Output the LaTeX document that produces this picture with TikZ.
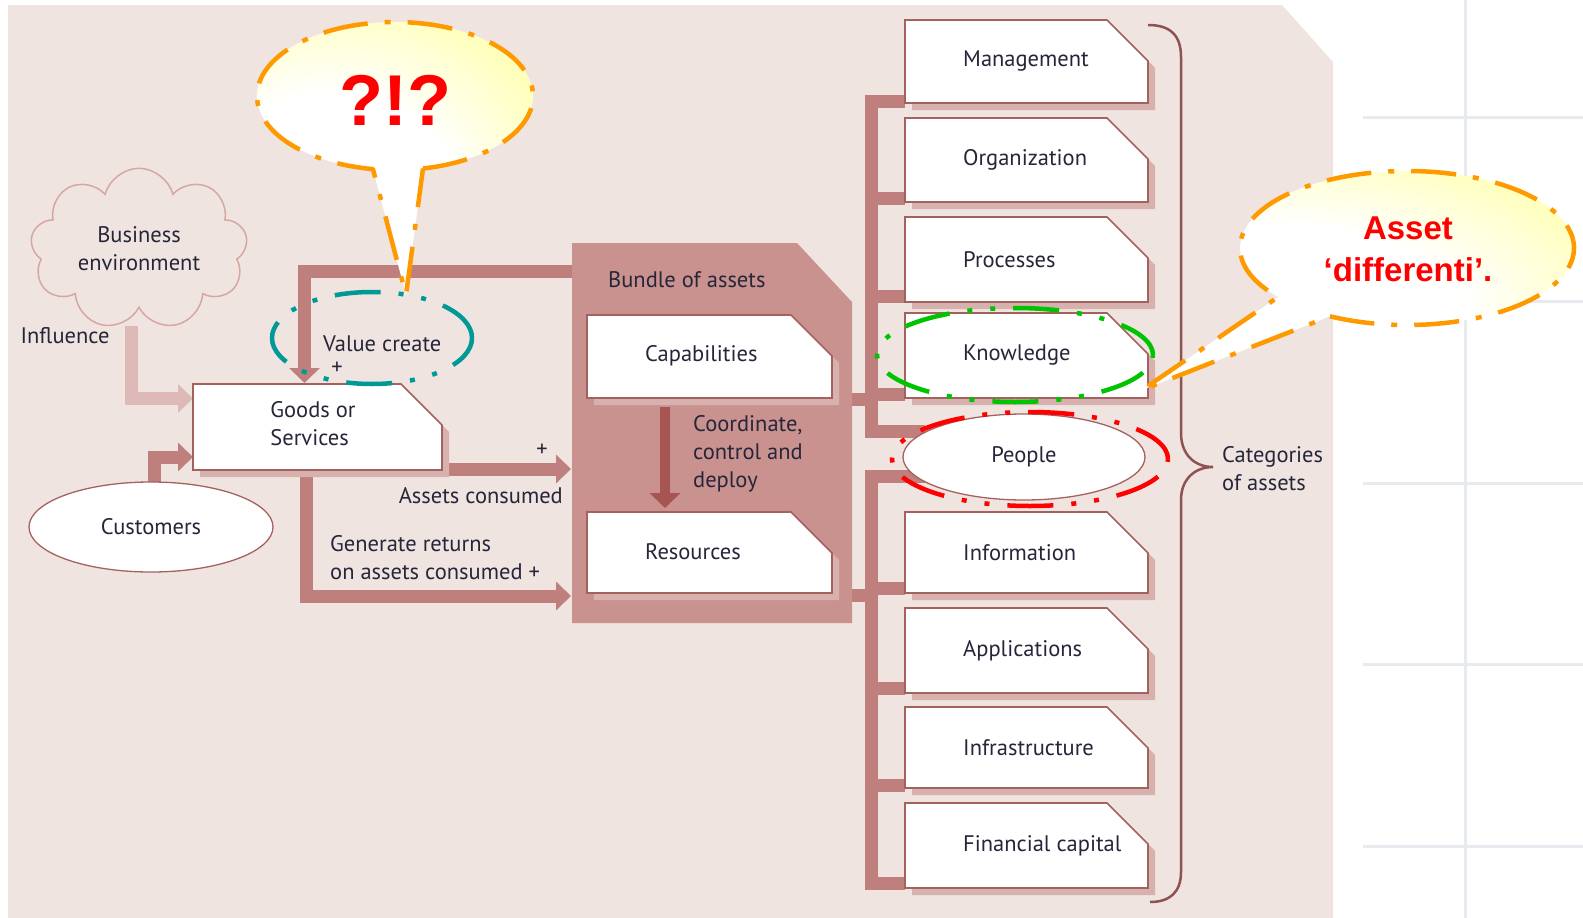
\documentclass[tikz,border=0pt]{standalone}
\usepackage{fontspec}
\setmainfont{PT Sans}
\newfontfamily\arialfont{Liberation Sans}
\usetikzlibrary{shapes.geometric,shapes.symbols,arrows.meta}
\definecolor{panelc}{HTML}{F0E4E1}
\definecolor{barc}{HTML}{BF7F7C}
\definecolor{lbarc}{HTML}{DDBAB7}
\definecolor{bundlec}{HTML}{C9928F}
\definecolor{borderc}{HTML}{A4625F}
\definecolor{shadowc}{HTML}{D7B1AE}
\definecolor{darkarrc}{HTML}{A65552}
\definecolor{txtc}{HTML}{26263A}
\definecolor{cloudc}{HTML}{D6A6A3}
\definecolor{gridc}{HTML}{E7EBEF}
\definecolor{orangec}{HTML}{FF9900}
\definecolor{tealc}{HTML}{009A96}
\definecolor{greenc}{HTML}{00C400}
\definecolor{redc}{HTML}{FF0000}
\definecolor{bracec}{HTML}{8E5250}
\pgfdeclareradialshading{bubshade}{\pgfpoint{-15bp}{-15bp}}{color(0bp)=(white); color(22bp)=(white); color(52bp)=(yellow!55); color(80bp)=(yellow!70)}
\newcommand\cbox[5]{%
  \fill[shadowc] ({#2+7},{#3+7}) -- ({#4-34},{#3+7}) -- ({#4+7},{#3+48}) -- ({#4+7},{#5+7}) -- ({#2+7},{#5+7}) -- cycle;
  \filldraw[fill=white, draw=borderc, line width=1.6pt, line join=miter] (#2,#3) -- ({#4-41},#3) -- (#4,{#3+41}) -- (#4,#5) -- (#2,#5) -- cycle;
  \coordinate (#1-nw) at (#2,#3);
  \coordinate (#1-se) at (#4,#5);
}
\tikzset{
  bar/.style={line width=13pt, draw=barc, line join=miter},
  lbar/.style={bar, draw=lbarc},
  arr/.style={-{Triangle[length=15pt,width=28pt]}},
  hl/.style={ellipse, draw, line width=4.5pt, dash pattern=on 46pt off 18pt on 5pt off 18pt on 5pt off 18pt},
  bubble/.style={shading=bubshade, draw=orangec, line width=4.5pt, line join=round, dash pattern=on 45pt off 17pt on 6pt off 17pt},
  bubtext/.style={text=redc, align=center}
}
\begin{document}
\begin{tikzpicture}[x=1pt, y=-1pt, every node/.style={font=\fontsize{22.5}{28}\selectfont, text=txtc, inner sep=0pt}]
\fill[white] (0,0) rectangle (1583,918);
\useasboundingbox (0,0) rectangle (1583,918);
% grid on the right
\draw[gridc, line width=3pt] (1465,0) -- (1465,918);
\foreach \yy in {117,301,483,664,846} \draw[gridc, line width=3pt] (1363,\yy) -- (1583,\yy);
% panel
\fill[panelc] (8,5) -- (1282,5) -- (1333,62) -- (1333,918) -- (8,918) -- cycle;
% cloud
\node[cloud, cloud puffs=9, aspect=1.4, draw=cloudc, line width=1.5pt, minimum width=217pt, minimum height=158pt, align=center] (biz) at (139,249) {Business\\environment};
\node (infl) at (65,336) {Influence};
% coordinates for connectors
\coordinate (inflS) at (131.5,326);
\coordinate (goodsInf) at (193,398.5);
\coordinate (custTop) at (154.5,485);
\coordinate (goodsCust) at (193,457);
\coordinate (bundleVC) at (572,271);
\coordinate (goodsTop) at (304.5,383);
\coordinate (goodsR) at (440,469);
\coordinate (bundleAC) at (571,469);
\coordinate (goodsB) at (306.5,465);
\coordinate (bundleGR) at (571,596);
% connectors on the left
\draw[lbar, arr] (inflS) |- (goodsInf);
\draw[bar, arr] (custTop) |- (goodsCust);
\draw[bar, -{Triangle[length=15pt,width=30pt]}] (bundleVC) -| (goodsTop);
\draw[bar, arr] (goodsR) -- (bundleAC);
\draw[bar, arr] (goodsB) |- (bundleGR);
% tree
\coordinate (tU) at (871.5,0);
\coordinate (bm) at (905,101);
\coordinate (bo) at (905,198.5);
\coordinate (bp) at (905,296);
\coordinate (bk) at (905,394);
\coordinate (bi) at (905,588.5);
\coordinate (ba) at (905,688.5);
\coordinate (bf) at (905,785);
\coordinate (bc) at (905,883.5);
\coordinate (capR) at (850,399);
\coordinate (resR) at (850,595);
\draw[bar] (bm) -| (871.5,431.5) -- (925,431.5);
\foreach \c in {bo,bp,bk} \draw[bar] (\c) -- (\c -| tU);
\draw[bar] (capR) -- (capR -| tU);
\draw[bar] (925,476.5) -| (871.5,883.5) -- (bc);
\foreach \c in {bi,ba,bf} \draw[bar] (\c) -- (\c -| tU);
\draw[bar] (resR) -- (resR -| tU);
% bundle of assets
\fill[bundlec] (572,243) -- (797,243) -- (852,302) -- (852,623) -- (572,623) -- cycle;
\node[anchor=west] (bundle) at (608,280) {Bundle of assets};
\cbox{capb}{587}{315}{832}{398}
\node[anchor=west] (cap) at (645,356) {Capabilities};
\cbox{resb}{587}{512}{832}{593}
\node[anchor=west] (res) at (645,552) {Resources};
\coordinate (capS) at (665,407);
\coordinate (resN) at (665,508);
\draw[line width=10pt, darkarrc, -{Triangle[length=15pt,width=30pt]}] (capS) -- (resN);
\node[anchor=west, align=left] (coord) at (693,454) {Coordinate,\\control and\\deploy};
% goods / customers
\cbox{gsb}{193}{384}{442}{470}
\node[align=left] (goods) at (313,424) {Goods or\\Services};
\node[ellipse, draw=borderc, line width=1.3pt, fill=white, minimum width=244pt, minimum height=90pt] (cust) at (151,527) {Customers};
\node[anchor=west] (vc) at (323,344) {Value create};
\node (plus1) at (337,368) {+};
\node (plus2) at (542,450) {+};
\node[anchor=east] (ac) at (563,496) {Assets consumed};
\node[anchor=west, align=left] (gr) at (330,557.5) {Generate returns\\on assets consumed +};
% categories
\cbox{mb}{905}{20}{1148}{103}
\node[anchor=west] (mgmt) at (963,61.5) {Management};
\cbox{ob}{905}{118}{1148}{202}
\node[anchor=west] (org) at (963,160) {Organization};
\cbox{pb}{905}{217}{1148}{302}
\node[anchor=west] (proc) at (963,259.5) {Processes};
\cbox{kb}{905}{313}{1148}{398}
\node[anchor=west] (know) at (963,355.5) {Knowledge};
\node[ellipse, draw=borderc, line width=1.3pt, fill=white, minimum width=242pt, minimum height=86pt] (people) at (1024,457) {People};
\cbox{ib}{905}{512}{1148}{593}
\node[anchor=west] (info) at (963,552.5) {Information};
\cbox{ab}{905}{608}{1148}{693}
\node[anchor=west] (apps) at (963,650.5) {Applications};
\cbox{fb}{905}{707}{1148}{788}
\node[anchor=west] (infra) at (963,747.5) {Infrastructure};
\cbox{cb}{905}{803}{1148}{888}
\node[anchor=west] (fin) at (963,845.5) {Financial capital};
% brace
\draw[bracec, line width=2.5pt] (1148,25) .. controls (1170,25) and (1181,35) .. (1181,57) -- (1181,433) .. controls (1181,455) and (1195,467) .. (1213,467) .. controls (1195,467) and (1181,479) .. (1181,500) -- (1181,872) .. controls (1181,892) and (1170,902) .. (1150,902);
\node[anchor=west, align=left] (cat) at (1222,468.5) {Categories\\of assets};
% highlight ellipses
\node[hl, draw=tealc, minimum width=200pt, minimum height=92pt] (vchl) at (372,338) {};
\node[hl, draw=greenc, minimum width=276pt, minimum height=94pt] (khl) at (1015,355) {};
\node[hl, draw=redc, minimum width=276pt, minimum height=94pt] (phl) at (1030,459) {};
% bubbles
\shadedraw[bubble] (423.0,168.5) arc[start angle=-78.3, end angle=260.8, x radius=138pt, y radius=74pt] -- (406,295) -- cycle;
\node[bubtext, font=\arialfont\bfseries\fontsize{72}{72}\selectfont] (qq) at (395,100) {?!?};
\shadedraw[bubble] (1329.9,316.3) arc[start angle=-117.5, end angle=219.5, x radius=167pt, y radius=77pt] -- (1142,390) -- cycle;
\node[bubtext, font=\arialfont\bfseries\fontsize{33}{42}\selectfont] (adiff) at (1408,249) {Asset\\‘differenti’.};
\end{tikzpicture}
\end{document}
